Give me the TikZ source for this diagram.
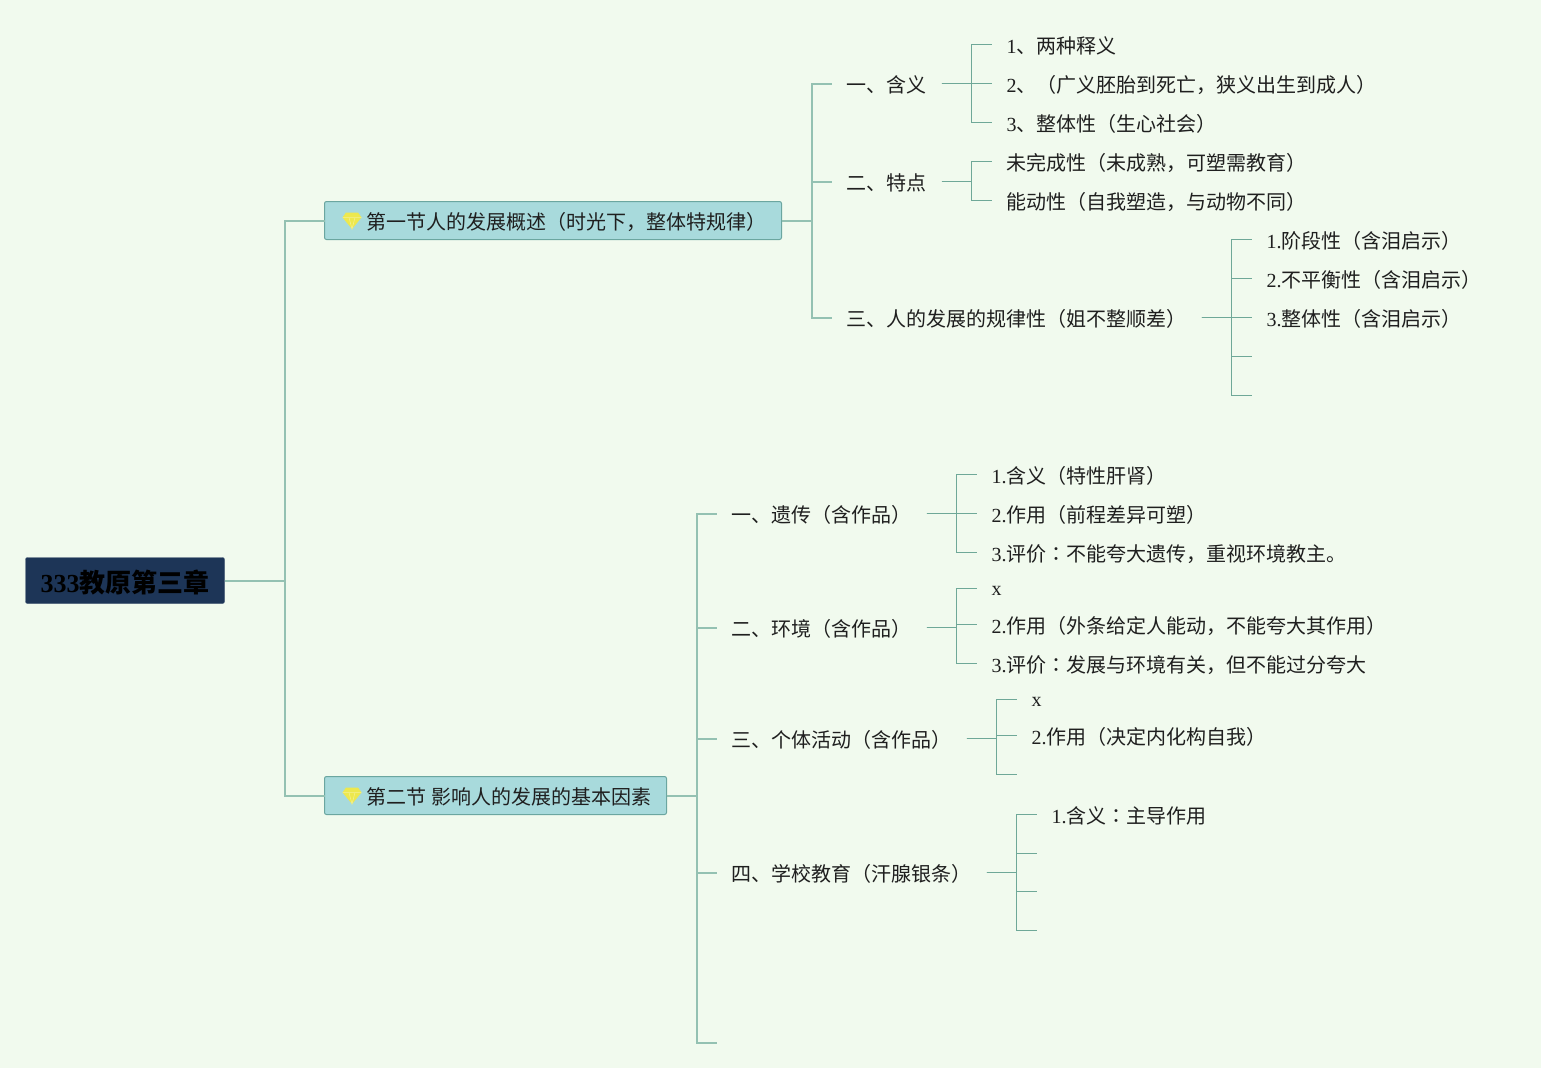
\documentclass[tikz,border=0pt]{standalone}
\usepackage{fontspec}
\setmainfont{Liberation Serif}
\newfontfamily\cjk{Noto Sans CJK SC}
\newfontfamily\cjktc{Noto Sans CJK TC}
\newcommand{\lat}[1]{{\rmfamily #1}}
\newcommand{\maohao}{{\cjktc ：}}
\definecolor{paper}{HTML}{F1FAEE}
\definecolor{navy}{HTML}{1D3557}
\definecolor{sectionfill}{HTML}{A8DADC}
\definecolor{sectionline}{HTML}{6BA6A0}
\definecolor{linkcolor}{HTML}{6FA898}
\definecolor{mainlinkcolor}{HTML}{94C1B2}
\definecolor{gemcolor}{HTML}{EDE84E}

\tikzstyle{label} = [inner xsep=15pt, inner ysep=0pt, outer sep=0pt, anchor=west,
    text height=19pt, text depth=1.5pt, text=black!88, font=\cjk\fontsize{20}{24}\selectfont]
\tikzstyle{letter} = [label, text height=15.5pt]
\tikzstyle{section} = [label, draw=sectionline, fill=sectionfill, line width=1pt,
    rounded corners=2pt, inner ysep=8.75pt]
\tikzstyle{root} = [label, draw=navy!85!white, fill=navy, rounded corners=2pt, inner ysep=10pt,
    text height=24.5pt, minimum width=199pt, text=black, font=\cjk\bfseries\fontsize{26}{30}\selectfont]
\tikzstyle{link} = [draw=linkcolor, line width=1.2pt]
\tikzstyle{mainlink} = [draw=mainlinkcolor, line width=2pt]
\tikzset{gem/.pic={
    \fill [gemcolor] (-6,-8) -- (6,-8) -- (9.5,-3) -- (0,8.5) -- (-9.5,-3) -- cycle;
    \draw [gemcolor!60!white, line width=0.5pt] (-9.5,-3) -- (9.5,-3) (-3,-3) -- (0,8.5) -- (3,-3);
}}

\begin{document}
\begin{tikzpicture}[x=1pt, y=-1pt]
    \fill [paper] (0,0) rectangle (1541,1068);
    \useasboundingbox (0,0) rectangle (1541,1068);

    \begin{scope}[shift={(0.5,0.5)}]
    % Place root and sections
    \node [root] (root) at (25,580) {\lat{333}教原第三章};
    \node [section] (first) at (324,220) {\hspace*{27pt}第一节人的发展概述（时光下，整体特规律）};
    \node [section] (second) at (324,795) {\hspace*{27pt}第二节\lat{ }影响人的发展的基本因素};
    \pic at ([xshift=27.5pt]first.west) {gem};
    \pic at ([xshift=27.5pt]second.west) {gem};

    % First section
    \node [label] (meaning) at (831,83) {一、含义};
    \node [label] (feature) at (831,181) {二、特点};
    \node [label] (rule) at (831,317) {三、人的发展的规律性（姐不整顺差）};

    \node [label] (m1) at (991,44) {\lat{1}、两种释义};
    \node [label] (m2) at (991,83) {\lat{2}、（广义胚胎到死亡，狭义出生到成人）};
    \node [label] (m3) at (991,122) {\lat{3}、整体性（生心社会）};
    \node [label] (f1) at (991,161) {未完成性（未成熟，可塑需教育）};
    \node [label] (f2) at (991,200) {能动性（自我塑造，与动物不同）};
    \node [label] (r1) at (1251,239) {\lat{1.}阶段性（含泪启示）};
    \node [label] (r2) at (1251,278) {\lat{2.}不平衡性（含泪启示）};
    \node [label] (r3) at (1251,317) {\lat{3.}整体性（含泪启示）};
    \coordinate (r4) at (1251,356);
    \coordinate (r5) at (1251,395);

    % Second section
    \node [label] (heredity) at (716,513) {一、遗传（含作品）};
    \node [label] (environ) at (716,627) {二、环境（含作品）};
    \node [label] (activity) at (716,738) {三、个体活动（含作品）};
    \node [label] (school) at (716,872) {四、学校教育（汗腺银条）};
    \coordinate (blank) at (716,1042);

    \node [label] (h1) at (976,474) {\lat{1.}含义（特性肝肾）};
    \node [label] (h2) at (976,513) {\lat{2.}作用（前程差异可塑）};
    \node [label] (h3) at (976,552) {\lat{3.}评价\maohao 不能夸大遗传，重视环境教主。};
    \node [letter] (e1) at (976,588) {\lat{x}};
    \node [label] (e2) at (976,624) {\lat{2.}作用（外条给定人能动，不能夸大其作用）};
    \node [label] (e3) at (976,663) {\lat{3.}评价\maohao 发展与环境有关，但不能过分夸大};
    \node [letter] (a1) at (1016,699) {\lat{x}};
    \node [label] (a2) at (1016,735) {\lat{2.}作用（决定内化构自我）};
    \coordinate (a3) at (1016,774);
    \node [label] (s1) at (1036,814) {\lat{1.}含义\maohao 主导作用};
    \coordinate (s2) at (1036,853);
    \coordinate (s3) at (1036,891);
    \coordinate (s4) at (1036,930);

    % Connectors
    \foreach \kid in {first, second}
        \draw [mainlink] (root.east) -- ++(60,0) |- (\kid);
    \foreach \kid in {meaning, feature, rule}
        \draw [mainlink] (first.east) -- ++(30,0) |- (\kid);
    \foreach \kid in {heredity, environ, activity, school, blank}
        \draw [mainlink] (second.east) -- ++(30,0) |- (\kid);

    \foreach \kid in {m1, m2, m3}
        \draw [link] (meaning.east) -- ++(30,0) |- (\kid);
    \foreach \kid in {f1, f2}
        \draw [link] (feature.east) -- ++(30,0) |- (\kid);
    \foreach \kid in {r1, r2, r3, r4, r5}
        \draw [link] (rule.east) -- ++(30,0) |- (\kid);
    \foreach \kid in {h1, h2, h3}
        \draw [link] (heredity.east) -- ++(30,0) |- (\kid);
    \foreach \kid in {e1, e2, e3}
        \draw [link] (environ.east) -- ++(30,0) |- (\kid);
    \foreach \kid in {a1, a2, a3}
        \draw [link] (activity.east) -- ++(30,0) |- (\kid);
    \foreach \kid in {s1, s2, s3, s4}
        \draw [link] (school.east) -- ++(30,0) |- (\kid);
    \end{scope}
\end{tikzpicture}
\end{document}
